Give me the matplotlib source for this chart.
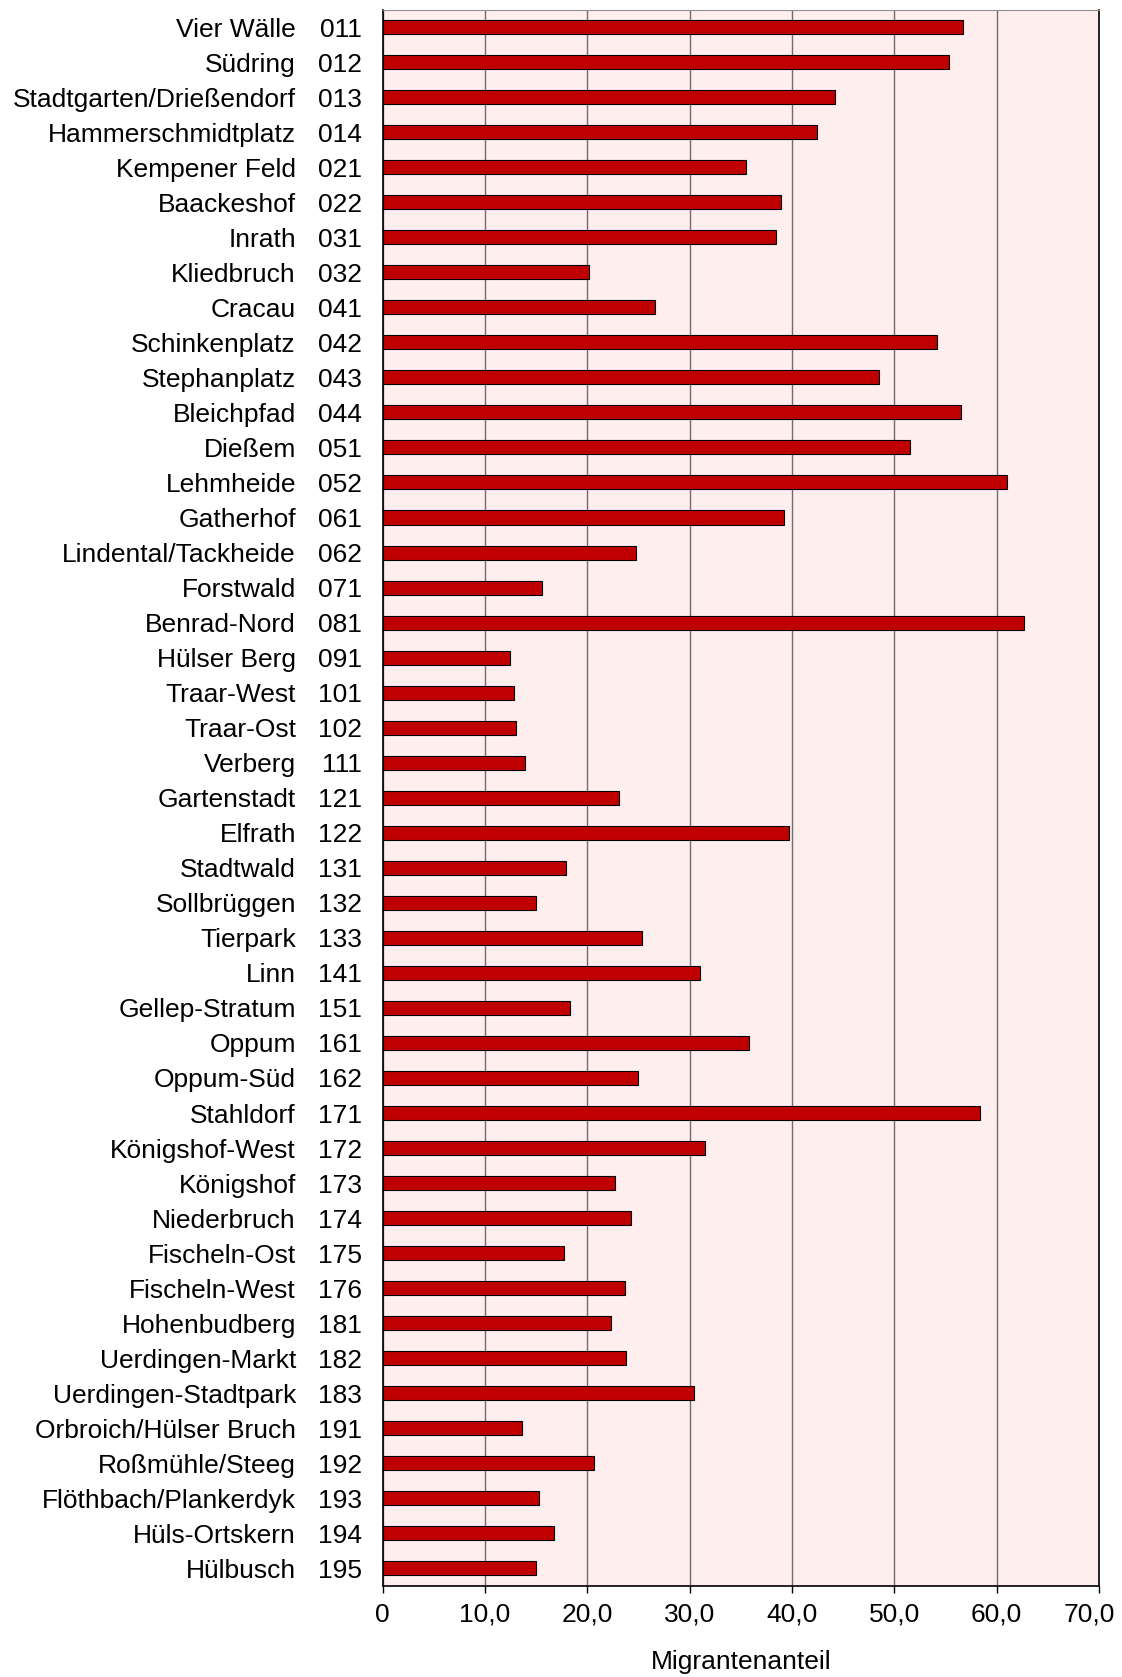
import matplotlib.pyplot as plt
from matplotlib.ticker import FuncFormatter
from matplotlib.transforms import ScaledTranslation

plt.rcParams['font.family'] = ['Liberation Sans', 'DejaVu Sans']

# Stadtbezirke: Name, Nummer, Migrantenanteil
namen = ['Vier Wälle', 'Südring', 'Stadtgarten/Drießendorf', 'Hammerschmidtplatz',
         'Kempener Feld', 'Baackeshof', 'Inrath', 'Kliedbruch', 'Cracau',
         'Schinkenplatz', 'Stephanplatz', 'Bleichpfad', 'Dießem', 'Lehmheide',
         'Gatherhof', 'Lindental/Tackheide', 'Forstwald', 'Benrad-Nord',
         'Hülser Berg', 'Traar-West', 'Traar-Ost', 'Verberg', 'Gartenstadt',
         'Elfrath', 'Stadtwald', 'Sollbrüggen', 'Tierpark', 'Linn',
         'Gellep-Stratum', 'Oppum', 'Oppum-Süd', 'Stahldorf', 'Königshof-West',
         'Königshof', 'Niederbruch', 'Fischeln-Ost', 'Fischeln-West',
         'Hohenbudberg', 'Uerdingen-Markt', 'Uerdingen-Stadtpark',
         'Orbroich/Hülser Bruch', 'Roßmühle/Steeg', 'Flöthbach/Plankerdyk',
         'Hüls-Ortskern', 'Hülbusch']
nummern = ['011', '012', '013', '014', '021', '022', '031', '032', '041',
           '042', '043', '044', '051', '052', '061', '062', '071', '081',
           '091', '101', '102', '111', '121', '122', '131', '132', '133', '141',
           '151', '161', '162', '171', '172', '173', '174', '175', '176',
           '181', '182', '183', '191', '192', '193', '194', '195']
anteil = [56.7, 55.3, 44.2, 42.4, 35.5, 38.9, 38.4, 20.2, 26.6,
          54.2, 48.5, 56.5, 51.5, 61.0, 39.2, 24.8, 15.6, 62.7,
          12.4, 12.8, 13.0, 13.9, 23.1, 39.7, 17.9, 15.0, 25.3, 31.0,
          18.3, 35.8, 24.9, 58.4, 31.5, 22.7, 24.3, 17.7, 23.7,
          22.3, 23.8, 30.4, 13.6, 20.6, 15.3, 16.7, 15.0]

fs = 19

fig = plt.figure(figsize=(11.22, 16.77), dpi=100)
ax = fig.add_axes([0.3411, 0.0543, 0.9795 - 0.3411, 0.9943 - 0.0543])
ax.set_facecolor('#FFEEEE')

pos = list(range(len(namen)))
ax.barh(pos, anteil, height=0.4, color='#C00000', edgecolor='black',
        linewidth=0.8, zorder=3)

ax.set_xlim(0, 70)
ax.set_ylim(len(namen) - 0.5, -0.5)
ax.set_xticks(range(0, 71, 10))
ax.xaxis.set_major_formatter(FuncFormatter(
    lambda v, p: '0' if v == 0 else f'{v:.1f}'.replace('.', ',')))
ax.grid(axis='x', color='#6E6E6E', linewidth=1.0, zorder=1)

ax.set_yticks(pos)
ax.set_yticklabels(nummern, va='center_baseline')
ax.tick_params(axis='y', length=0, pad=15, labelsize=fs)
ax.tick_params(axis='x', length=5, width=1, direction='out', pad=7, labelsize=fs)

# letzte Beschriftung (70,0) etwas nach innen schieben, wie im Original
lbl = ax.get_xticklabels()[-1]
lbl.set_transform(lbl.get_transform() + ScaledTranslation(-10 / 100, 0, fig.dpi_scale_trans))

for i, n in enumerate(namen):
    ax.annotate(n, xy=(0, i), xycoords=('axes fraction', 'data'),
                xytext=(-62.5, 0), textcoords='offset points',
                ha='right', va='center_baseline', fontsize=fs)

ax.set_xlabel('Migrantenanteil', fontsize=fs, labelpad=17)

for s in ['left', 'bottom', 'right']:
    ax.spines[s].set_color('black')
    ax.spines[s].set_linewidth(1.2)
ax.spines['top'].set_color('#909090')

fig.savefig('out.png', dpi=100)
